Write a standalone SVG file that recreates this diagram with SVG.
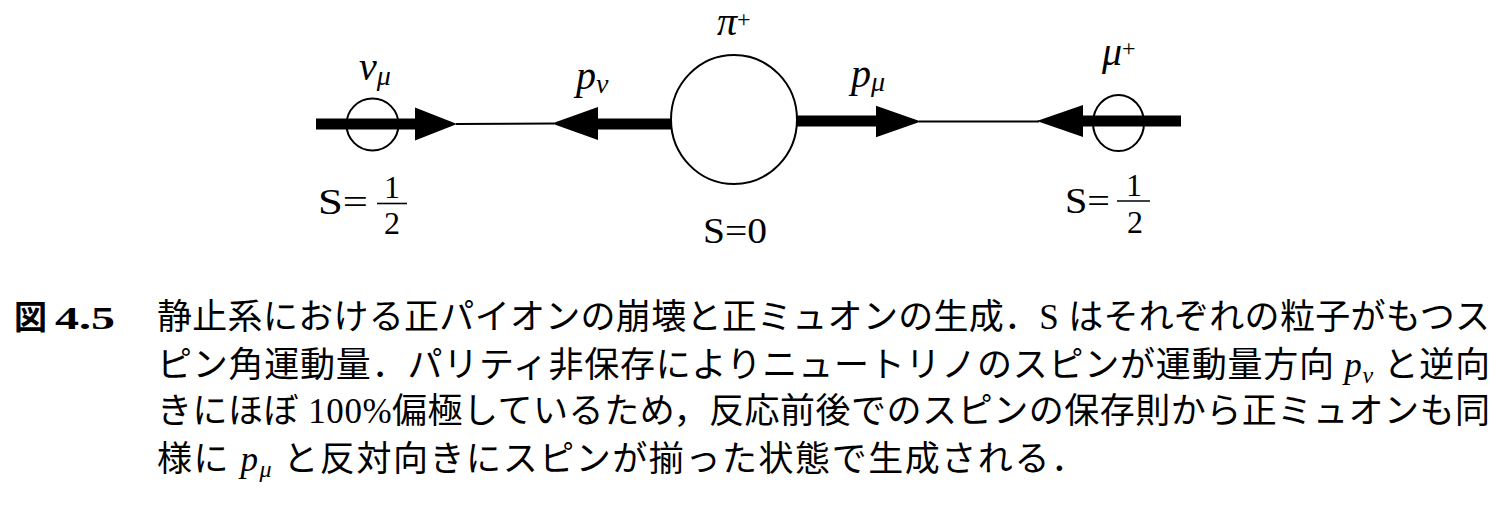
<svg xmlns="http://www.w3.org/2000/svg" xmlns:xlink="http://www.w3.org/1999/xlink" width="1512" height="506" viewBox="0 0 1512 506">
<style>
  .ring{fill:none;stroke:#000;stroke-width:2}
  .thick{stroke:#000;stroke-width:11;fill:none}
  .thin{stroke:#000;stroke-width:2;fill:none}
  .head{fill:#000}
  .bar{stroke:#000;stroke-width:1.6}
  .mi{font-family:"Liberation Serif",serif;font-style:italic;font-size:40px;fill:#000}
  .sub{font-size:28px}
  .sup{font-family:"Liberation Serif",serif;font-style:normal;font-size:24px}
  .rm{font-family:"Liberation Serif",serif;font-size:36px;fill:#000}
  .num{font-family:"Liberation Serif",serif;font-size:32px;fill:#000}
  .cap{font-family:"Liberation Serif","Noto Sans CJK JP",serif;font-size:35px;fill:#000}
  .it{font-style:italic}
</style>
<defs>
  <polygon id="ah" class="head" points="0,-16.5 42,0 0,16.5"/>
</defs>
<rect x="0" y="0" width="1512" height="506" fill="#fff"/>

<g id="connectors">
  <line class="thick" x1="316" y1="124" x2="418" y2="124"/>
  <use xlink:href="#ah" transform="translate(415,124)"/>
  <line class="thin" x1="456" y1="124" x2="554" y2="123.5"/>
  <use xlink:href="#ah" transform="translate(598,123.5) scale(-1.1,1)"/>
  <line class="thick" x1="595" y1="124" x2="672" y2="124"/>
  <line class="thick" x1="796" y1="121" x2="878" y2="121"/>
  <use xlink:href="#ah" transform="translate(876,121.5) scale(1.07,0.95)"/>
  <line class="thin" x1="919" y1="121.5" x2="1039" y2="121.5"/>
  <use xlink:href="#ah" transform="translate(1083,121) scale(-1.1,0.97)"/>
  <line class="thick" x1="1080" y1="121" x2="1181" y2="121"/>
</g>

<g id="nu">
  <circle class="ring" cx="372.5" cy="124.5" r="26"/>
  <text class="mi" x="359" y="80">ν<tspan class="sub" dy="5">μ</tspan></text>
  <text class="rm" x="318" y="214" textLength="50" lengthAdjust="spacingAndGlyphs">S=</text>
  <line class="bar" x1="377" y1="203.5" x2="407" y2="203.5"/>
  <text class="num" x="392" y="198" text-anchor="middle">1</text>
  <text class="num" x="392" y="234" text-anchor="middle">2</text>
</g>

<g id="nu-momentum">
  <text class="mi" x="576" y="89">p<tspan class="sub" dy="4">ν</tspan></text>
</g>

<g id="pi">
  <ellipse class="ring" cx="734" cy="119.5" rx="63" ry="64.5"/>
  <text class="mi" x="717" y="35">π<tspan class="sup" dy="-8">+</tspan></text>
  <text class="rm" x="703" y="243" textLength="64" lengthAdjust="spacingAndGlyphs">S=0</text>
</g>

<g id="mu-momentum">
  <text class="mi" x="851" y="87">p<tspan class="sub" dy="4">μ</tspan></text>
</g>

<g id="mu">
  <ellipse class="ring" cx="1118.5" cy="123" rx="25.5" ry="28"/>
  <text class="mi" x="1102" y="65">μ<tspan class="sup" dy="-9">+</tspan></text>
  <text class="rm" x="1065" y="213" textLength="45" lengthAdjust="spacingAndGlyphs">S=</text>
  <line class="bar" x1="1117" y1="201" x2="1150" y2="201"/>
  <text class="num" x="1134" y="195.5" text-anchor="middle">1</text>
  <text class="num" x="1135" y="233" text-anchor="middle">2</text>
</g>

<g id="caption">
  <text x="14" y="329" font-family="'Noto Sans CJK JP',sans-serif" font-weight="bold" font-size="33">図</text>
  <text x="55" y="329" font-family="'Liberation Serif',serif" font-weight="bold" font-size="32" textLength="60" lengthAdjust="spacingAndGlyphs">4.5</text>
  <text class="cap" x="157" y="329" textLength="1333" lengthAdjust="spacing">静止系における正パイオンの崩壊と正ミュオンの生成．S はそれぞれの粒子がもつス</text>
  <text class="cap" x="157" y="377" textLength="1333" lengthAdjust="spacing">ピン角運動量．パリティ非保存によりニュートリノのスピンが運動量方向 <tspan class="it">p</tspan><tspan class="it" font-size="24" dy="6">ν</tspan><tspan dy="-6"> と逆向</tspan></text>
  <text class="cap" x="157" y="423" textLength="1333" lengthAdjust="spacing">きにほぼ 100%偏極しているため，反応前後でのスピンの保存則から正ミュオンも同</text>
  <text class="cap" x="157" y="471" textLength="929" lengthAdjust="spacing">様に <tspan class="it">p</tspan><tspan class="it" font-size="24" dy="6">μ</tspan><tspan dy="-6"> と反対向きにスピンが揃った状態で生成される．</tspan></text>
</g>
</svg>
